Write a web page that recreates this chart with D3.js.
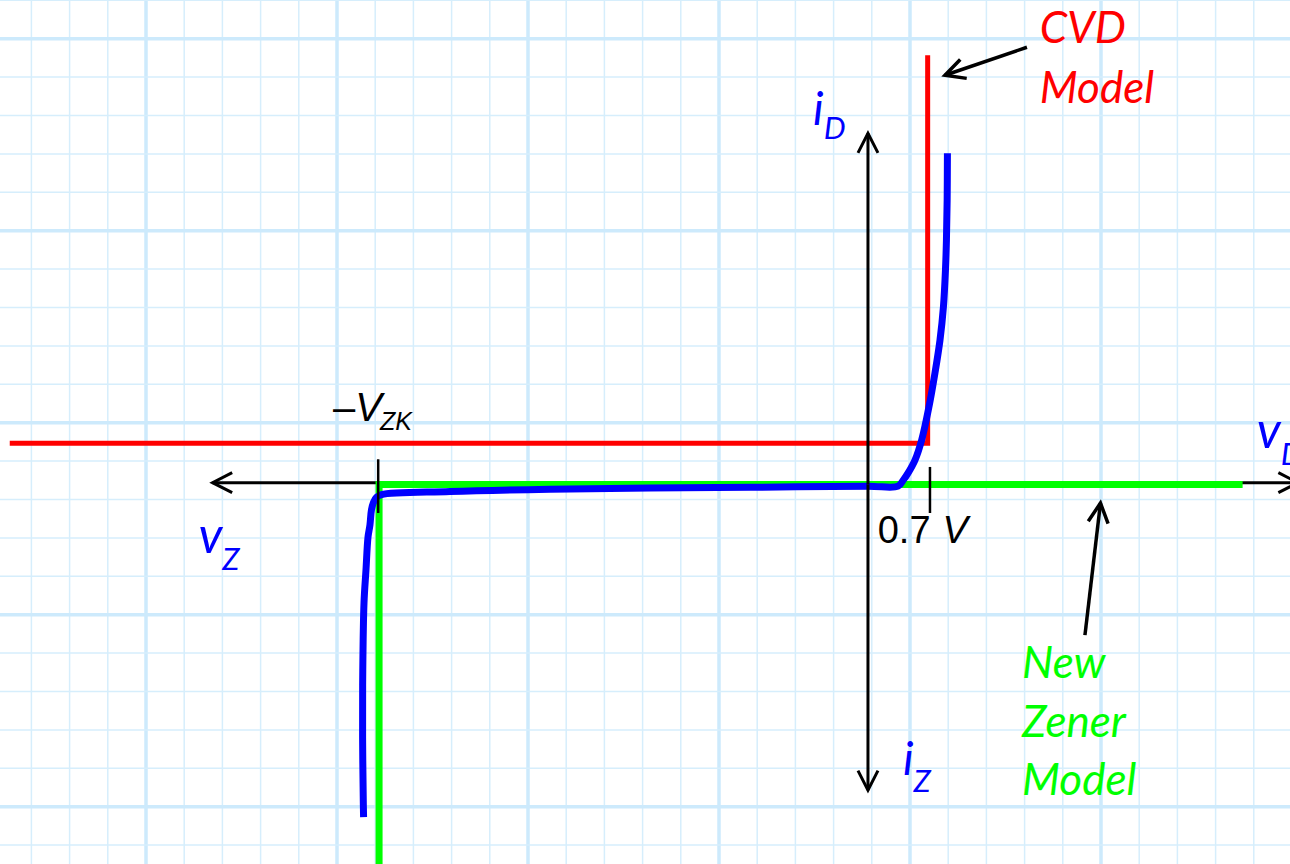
<!DOCTYPE html>
<html>
<head>
<meta charset="utf-8">
<script src="https://cdn.jsdelivr.net/npm/d3@7"></script>
<style>
  html, body { margin: 0; padding: 0; background: #fff; overflow: hidden; }
  svg { display: block; }
</style>
</head>
<body>
<svg id="chart"></svg>
<script>
const width = 1290, height = 864;

// Zener diode i-v curve (v in volts, i in mA)
const zenerCurve = [
  [-5.695, -8.66], [-5.698, -8.29], [-5.706, -6.58], [-5.704, -4.83],
  [-5.690, -3.07], [-5.668, -2.23], [-5.645, -1.37], [-5.623, -1.05],
  [-5.606, -0.66], [-5.583, -0.46], [-5.549, -0.33], [-5.492, -0.26],
  [-4.720, -0.18], [-3.590, -0.12], [-2.460, -0.09], [-1.330, -0.07],
  [0.000, -0.04], [0.340, -0.04], [0.399, 0.12], [0.452, 0.30],
  [0.531, 0.64], [0.606, 1.16], [0.689, 2.03], [0.756, 2.90],
  [0.813, 3.76], [0.852, 4.63], [0.875, 5.59], [0.886, 6.37],
  [0.894, 7.41], [0.897, 8.63]
];

// Constant voltage drop model (red)
const cvdModel = [[-9.69, 1.08], [0.674, 1.08], [0.674, 11.18]];

// New zener model (green)
const zenerModel = [[4.23, 0], [-5.52, 0], [-5.52, -10.3]];

// Axis extents
const vAxisRange = [-7.40, 4.855];   // horizontal axis, v
const iAxisRange = [9.15, -7.96];    // vertical axis, i
const axisLevel = 0.05;

// Tick marks on the v axis
const vTicks = [
  { v: -5.53, top: 0.66, bottom: -0.74 },
  { v: 0.70, top: 0.46, bottom: -0.74 }
];

// Label text
const modelLabelCVD = ["CVD", "Model"];
const modelLabelZener = ["New", "Zener", "Model"];

const svg = d3.select("#chart")
  .attr("width", width)
  .attr("height", height)
  .attr("viewBox", [0, 0, width, height]);

svg.append("rect").attr("width", width).attr("height", height).attr("fill", "#fff");

// scales: 0 V sits at x=868, 0.7 V at x=930; 1 mA = 38.4 px
const x = d3.scaleLinear().domain([-9.8, 4.765]).range([0, width]);
const y = d3.scaleLinear().domain([-9.88, 12.62]).range([height, 0]);

// graph paper background
const grid = svg.append("g").attr("class", "grid");
const gx = d3.range(-3, 31).map(k => ({ p: 146 + 38.2 * k, major: k % 5 === 0 }));
const gy = d3.range(-1, 23).map(k => ({ p: 38.7 + 38.4 * k, major: k % 5 === 0 }));

grid.selectAll(".gv").data(gx).enter().append("line")
  .attr("x1", d => d.p).attr("x2", d => d.p)
  .attr("y1", 0).attr("y2", height)
  .attr("stroke", d => d.major ? "#cdeafc" : "#d6eefc")
  .attr("stroke-width", d => d.major ? 3.5 : 1.5);

grid.selectAll(".gh").data(gy).enter().append("line")
  .attr("y1", d => d.p).attr("y2", d => d.p)
  .attr("x1", 0).attr("x2", width)
  .attr("stroke", d => d.major ? "#cdeafc" : "#d6eefc")
  .attr("stroke-width", d => d.major ? 3.5 : 1.5);

// arrow helper (open chevron head)
function arrow(g, x1, y1, x2, y2, sw, len) {
  g.append("line")
    .attr("x1", x1).attr("y1", y1).attr("x2", x2).attr("y2", y2)
    .attr("stroke", "#000").attr("stroke-width", sw);
  const a = Math.atan2(y2 - y1, x2 - x1);
  const spread = 27 * Math.PI / 180;
  const pts = [
    [x2 - len * Math.cos(a - spread), y2 - len * Math.sin(a - spread)],
    [x2, y2],
    [x2 - len * Math.cos(a + spread), y2 - len * Math.sin(a + spread)]
  ];
  g.append("path")
    .attr("d", d3.line()(pts))
    .attr("fill", "none")
    .attr("stroke", "#000")
    .attr("stroke-width", sw)
    .attr("stroke-linejoin", "miter");
}

const line = d3.line().x(d => x(d[0])).y(d => y(d[1]));

// horizontal axis (v_D to the right, v_Z to the left)
const axes = svg.append("g");
arrow(axes, x(0), y(axisLevel), x(vAxisRange[0]), y(axisLevel), 3, 22);
arrow(axes, x(0), y(axisLevel), x(vAxisRange[1]), y(axisLevel), 3, 22);

// model lines
svg.append("path")
  .attr("d", line(zenerModel))
  .attr("fill", "none")
  .attr("stroke", "#00ff00")
  .attr("stroke-width", 7)
  .attr("stroke-linejoin", "miter");

svg.append("path")
  .attr("d", line(cvdModel))
  .attr("fill", "none")
  .attr("stroke", "#ff0000")
  .attr("stroke-width", 5)
  .attr("stroke-linejoin", "miter");

// diode curve
svg.append("path")
  .attr("d", d3.line().x(d => x(d[0])).y(d => y(d[1]))
    .curve(d3.curveCatmullRom.alpha(0.5))(zenerCurve))
  .attr("fill", "none")
  .attr("stroke", "#0000ff")
  .attr("stroke-width", 7);

// vertical axis (i_D up, i_Z down)
const vaxis = svg.append("g");
arrow(vaxis, x(0), y(0), x(0), y(iAxisRange[0]), 3, 22);
arrow(vaxis, x(0), y(0), x(0), y(iAxisRange[1]), 3, 22);

// ticks
svg.selectAll(".vtick").data(vTicks).enter().append("line")
  .attr("x1", d => x(d.v)).attr("x2", d => x(d.v))
  .attr("y1", d => y(d.top)).attr("y2", d => y(d.bottom))
  .attr("stroke", "#000").attr("stroke-width", 2.5);

// label helper: main text with a subscript
function subLabel(vx, iy, main, sub, opt) {
  const t = svg.append("text")
    .attr("x", x(vx)).attr("y", y(iy))
    .attr("font-family", opt.family)
    .attr("font-style", "italic")
    .attr("fill", opt.color)
    .attr("font-size", opt.size);
  t.append("tspan").text(main);
  t.append("tspan")
    .attr("font-size", opt.subSize)
    .attr("dx", opt.subDx)
    .attr("dy", opt.subDy)
    .text(sub);
  return t;
}

const hand = "'Comic Sans MS', Lato, 'Open Sans', sans-serif";
const plain = "'Liberation Sans', Arial, sans-serif";

// -V_ZK
const vzk = svg.append("text")
  .attr("x", x(-6.04)).attr("y", y(1.65))
  .attr("font-family", plain).attr("font-size", 40).attr("fill", "#000");
vzk.append("tspan").text("\u2013");
vzk.append("tspan").attr("font-style", "italic").text("V");
vzk.append("tspan").attr("font-style", "italic").attr("font-size", 25)
  .attr("dx", -2).attr("dy", 9).text("ZK");

// 0.7 V
const v07 = svg.append("text")
  .attr("x", x(0.11)).attr("y", y(-1.52))
  .attr("font-family", plain).attr("font-size", 38).attr("fill", "#000");
v07.append("tspan").text("0.7");
v07.append("tspan").attr("font-style", "italic").attr("dx", 12).text("V");

// blue axis labels
const blueOpt = { family: hand, color: "#0000ff", size: 46, subSize: 31, subDx: 0, subDy: 14 };
subLabel(-0.62, 9.36, "i", "D", blueOpt);
subLabel(-7.56, -1.78, "v", "Z", { ...blueOpt, size: 50, subDy: 17 });
subLabel(0.395, -7.56, "i", "Z", { ...blueOpt, subDy: 17 });
subLabel(4.39, 0.95, "v", "D", { ...blueOpt, size: 50, subDy: 17 });

// model labels
svg.append("g").selectAll("text").data(modelLabelCVD).enter().append("text")
  .attr("x", x(1.94))
  .attr("y", (d, i) => y(11.5) + i * 60)
  .attr("font-family", hand).attr("font-style", "italic")
  .attr("font-size", 44).attr("fill", "#ff0000")
  .text(d => d);

svg.append("g").selectAll("text").data(modelLabelZener).enter().append("text")
  .attr("x", x(1.74))
  .attr("y", (d, i) => y(-5.04) + i * 58.5)
  .attr("font-family", hand).attr("font-style", "italic")
  .attr("font-size", 44).attr("fill", "#00ff00")
  .text(d => d);

// pointer arrows
const notes = svg.append("g");
arrow(notes, x(1.795), y(11.39), x(0.869), y(10.66), 3.5, 22);
arrow(notes, x(2.45), y(-3.92), x(2.625), y(-0.48), 3.5, 22);
</script>
</body>
</html>
